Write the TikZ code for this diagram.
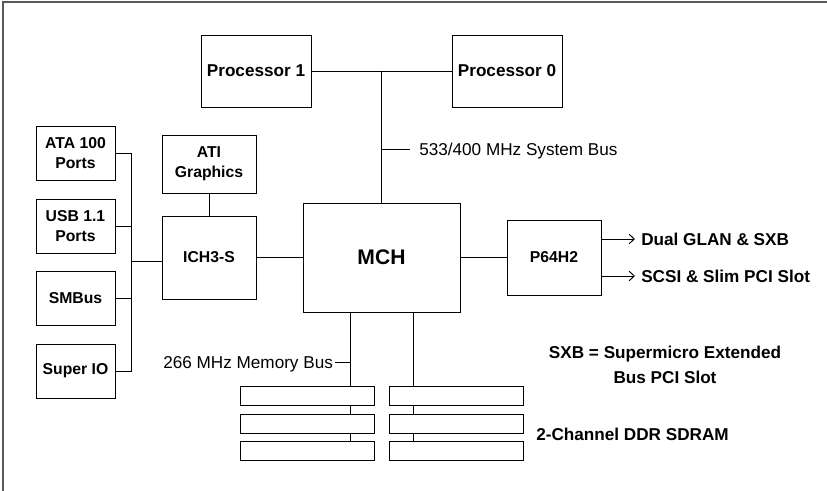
\documentclass[tikz,border=0pt]{standalone}
\usepackage{fontspec}
\setmainfont{Liberation Sans}
\usetikzlibrary{arrows.meta, positioning, calc}

\begin{document}
\begin{tikzpicture}[
    chip/.style={draw, line width=0.7pt, minimum width=2.35cm, minimum height=2cm,
                 font=\fontsize{11.2}{14.5}\selectfont\bfseries, align=center, inner sep=1pt},
    cpu/.style={chip, minimum width=2.75cm, minimum height=1.8cm,
                font=\fontsize{12.2}{15}\selectfont\bfseries},
    port/.style={chip, minimum width=1.975cm, minimum height=1.35cm},
    dimm/.style={draw, line width=0.7pt, minimum width=3.35cm, minimum height=0.475cm, inner sep=0pt},
    wire/.style={line width=0.7pt},
    feed/.style={wire, -{Straight Barb[length=1.3mm, width=2.4mm]}},
    lbl/.style={font=\fontsize{12.2}{15}\selectfont, inner sep=0pt},
    note/.style={font=\fontsize{12.2}{17.8}\selectfont\bfseries, inner sep=0pt, align=center}
  ]
    \useasboundingbox (0,0) rectangle (20.675,-12.275);
    \draw[line width=1pt, black!65] (0.075,-12.275) -- (0.075,-0.05) -- (20.675,-0.05);

    % processors and chipset
    \node[cpu] (p1) at (6.4,-1.775) {Processor 1};
    \node[cpu] (p0) at (12.675,-1.775) {Processor 0};
    \node[chip, minimum width=3.925cm, minimum height=2.725cm,
          font=\fontsize{15}{18}\selectfont\bfseries] (mch) at (9.5375,-6.4375) {MCH};
    \node[chip, minimum height=2.075cm] (ich) at (5.225,-6.4375) {ICH3-S};
    \node[chip, minimum height=1.45cm] (ati) at (5.225,-4.1) {ATI\\Graphics};
    \node[chip, minimum height=1.875cm] (p64) at (13.85,-6.4375) {P64H2};

    % south bridge devices
    \node[port] (ata) at (1.8875,-3.825) {ATA 100\\Ports};
    \node[port] (usb) at (1.8875,-5.65) {USB 1.1\\Ports};
    \node[port] (smb) at (1.8875,-7.4625) {SMBus};
    \node[port] (sio) at (1.8875,-9.275) {Super IO};

    % memory slots
    \foreach \r/\y in {1/-9.9, 2/-10.5875, 3/-11.275} {
      \node[dimm] (l\r) at (7.675,\y) {};
      \node[dimm] (r\r) at (11.4,\y) {};
    }

    % labels
    \node[lbl, anchor=base west] (sbus) at (10.475,-3.89) {533/400 MHz System Bus};
    \node[lbl, anchor=base east] (mbus) at (8.33,-9.21) {266 MHz Memory Bus};
    \node[note, anchor=west] (glan) at (16.025,-5.975) {Dual GLAN \& SXB};
    \node[note, anchor=west] (scsi) at (16.025,-6.9) {SCSI \& Slim PCI Slot};
    \node[note] (sxb) at (16.625,-9.1125) {SXB = Supermicro Extended\\Bus PCI Slot};
    \node[note, anchor=base west] (ddr) at (13.4,-11.02) {2-Channel DDR SDRAM};

    % system bus
    \draw[wire] (p1) -- (p0);
    \draw[wire] (p1.east -| mch.north) -- (mch.north);
    \coordinate (stk) at (10.25,-3.725);
    \draw[wire] (stk -| mch.north) -- (stk);

    % hub links
    \draw[wire] (ati) -- (ich);
    \draw[wire] (ich) -- (mch);
    \draw[wire] (mch) -- (p64);
    \draw[feed] (p64.east |- glan.west) -- ([xshift=-0.15cm]glan.west);
    \draw[feed] (p64.east |- scsi.west) -- ([xshift=-0.15cm]scsi.west);

    % LPC / device bus
    \coordinate (sb) at (3.275,0);
    \draw[wire] (ata.east) -- (ata.east -| sb) -- (sio.east -| sb) -- (sio.east);
    \draw[wire] (usb.east) -- (usb.east -| sb);
    \draw[wire] (smb.east) -- (smb.east -| sb);
    \draw[wire] ([yshift=-0.11cm]ich.west) -- ([yshift=-0.11cm]ich.west -| sb);

    % memory bus
    \coordinate (ml) at (8.75,0);
    \coordinate (mr) at (10.325,0);
    \draw[wire] (mch.south -| ml) -- (l1.north -| ml);
    \draw[wire] (mch.south -| mr) -- (r1.north -| mr);
    \foreach \a/\b in {1/2, 2/3} {
      \draw[wire] (l\a.south -| ml) -- (l\b.north -| ml);
      \draw[wire] (r\a.south -| mr) -- (r\b.north -| mr);
    }
    \coordinate (mtk) at (8.75,-9.05);
    \draw[wire] (mtk) -- ([xshift=0.05cm]mbus.east |- mtk);
  \end{tikzpicture}
\end{document}
